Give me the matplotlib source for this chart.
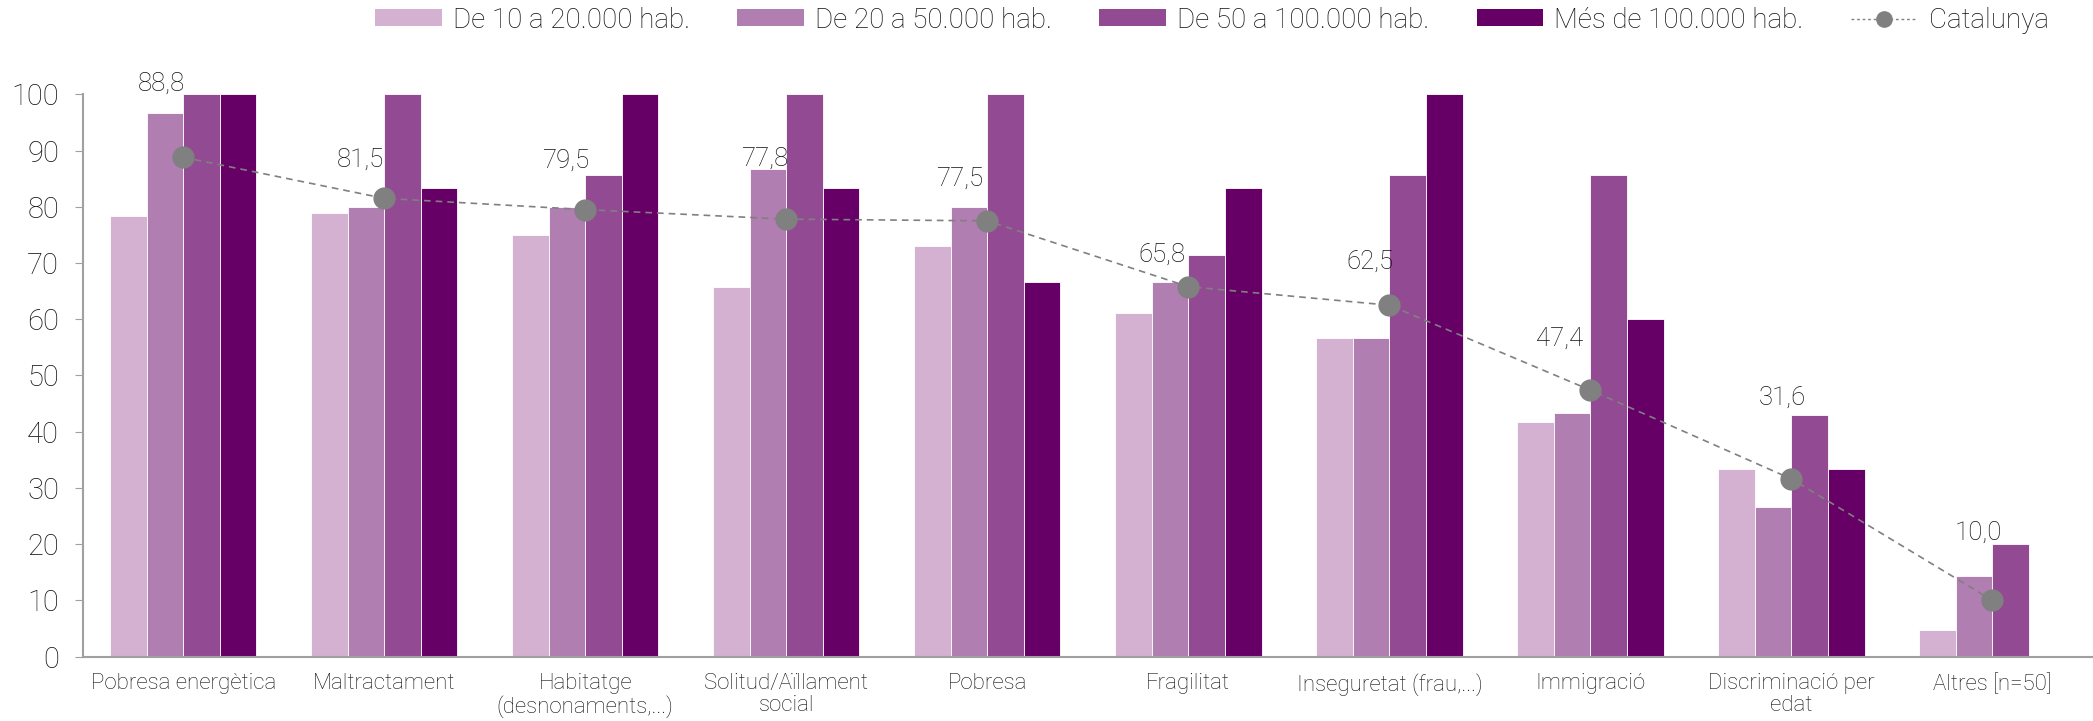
import matplotlib.pyplot as plt
import numpy as np
from matplotlib.patches import Patch
from matplotlib.lines import Line2D

plt.rcParams['font.family'] = ['Roboto', 'DejaVu Sans']
plt.rcParams['font.weight'] = 'light'

# dades
categories = ["Pobresa energètica", "Maltractament", "Habitatge\n(desnonaments,...)",
              "Solitud/Aïllament\nsocial", "Pobresa", "Fragilitat", "Inseguretat (frau,...)",
              "Immigració", "Discriminació per\nedat", "Altres [n=50]"]
series_names = ["De 10 a 20.000 hab.", "De 20 a 50.000 hab.",
                "De 50 a 100.000 hab.", "Més de 100.000 hab."]
de_10_20 = [78.3, 78.9, 75.0, 65.8, 73.0, 61.1, 56.7, 41.7, 33.3, 4.8]
de_20_50 = [96.7, 80.0, 80.0, 86.7, 80.0, 66.7, 56.7, 43.3, 26.7, 14.3]
de_50_100 = [100.0, 100.0, 85.7, 100.0, 100.0, 71.4, 85.7, 85.7, 42.9, 20.0]
mes_100 = [100.0, 83.3, 100.0, 83.3, 66.7, 83.3, 100.0, 60.0, 33.3, 0.0]
catalunya = [88.8, 81.5, 79.5, 77.8, 77.5, 65.8, 62.5, 47.4, 31.6, 10.0]

colors = ["#D4B1D1", "#B07EB0", "#924B92", "#660066"]
# desplaçament de les etiquetes (pixels)
label_offsets = [(-22, 74), (-24, 39), (-20, 49), (-22, 60), (-28, 42),
                 (-26, 32), (-19, 43), (-31, 51), (-9, 81), (-14, 68)]

fig = plt.figure(figsize=(20.93, 7.21), dpi=100)
ax = fig.add_axes([0.0395, 0.0892, 0.9605, 0.780])

x = np.arange(len(categories))
w = 0.182
for k, (vals, name) in enumerate(zip([de_10_20, de_20_50, de_50_100, mes_100], series_names)):
    ax.bar(x + (k - 1.5) * w, vals, width=w, color=colors[k], edgecolor='white',
           linewidth=0.6, label=name, zorder=2)

ax.plot(x, catalunya, color='#808080', linestyle=(0, (4, 3)), linewidth=1.2,
        marker='o', markersize=15, markerfacecolor='#808080', markeredgecolor='#808080',
        zorder=3)
for xi, v, (dx, dy) in zip(x, catalunya, label_offsets):
    ax.annotate(f"{v:.1f}".replace('.', ','), (xi, v), xytext=(dx, dy),
                textcoords='offset pixels', ha='center', va='center',
                fontsize=18.5, color='#111111', zorder=4)

ax.set_xlim(-0.5, 9.5)
ax.set_ylim(0, 100)
ax.set_yticks(range(0, 101, 10))
ax.set_xticks(x)
ax.set_xticklabels(categories, fontsize=16, linespacing=1.05, color='#111111')
ax.tick_params(axis='y', length=6, color='#A0A0A0', labelsize=21, pad=11,
               labelcolor='#111111')
ax.tick_params(axis='x', length=0, pad=12)
for s in ['top', 'right']:
    ax.spines[s].set_visible(False)
for s in ['left', 'bottom']:
    ax.spines[s].set_color('#A0A0A0')
    ax.spines[s].set_linewidth(1.5)

handles = [Patch(facecolor=c, label=n) for c, n in zip(colors, series_names)]
handles.append(Line2D([0], [0], color='#808080', linestyle=(0, (2, 2)), linewidth=1,
                      marker='o', markersize=11, label='Catalunya'))
leg = fig.legend(handles=handles, loc='center', bbox_to_anchor=(0.579, 0.972), ncol=5,
                 frameon=False, fontsize=20, handlelength=2.4, handleheight=0.55,
                 handletextpad=0.4, columnspacing=1.7)
for t in leg.get_texts():
    t.set_color('#111111')

fig.savefig('out.png', dpi=100)
